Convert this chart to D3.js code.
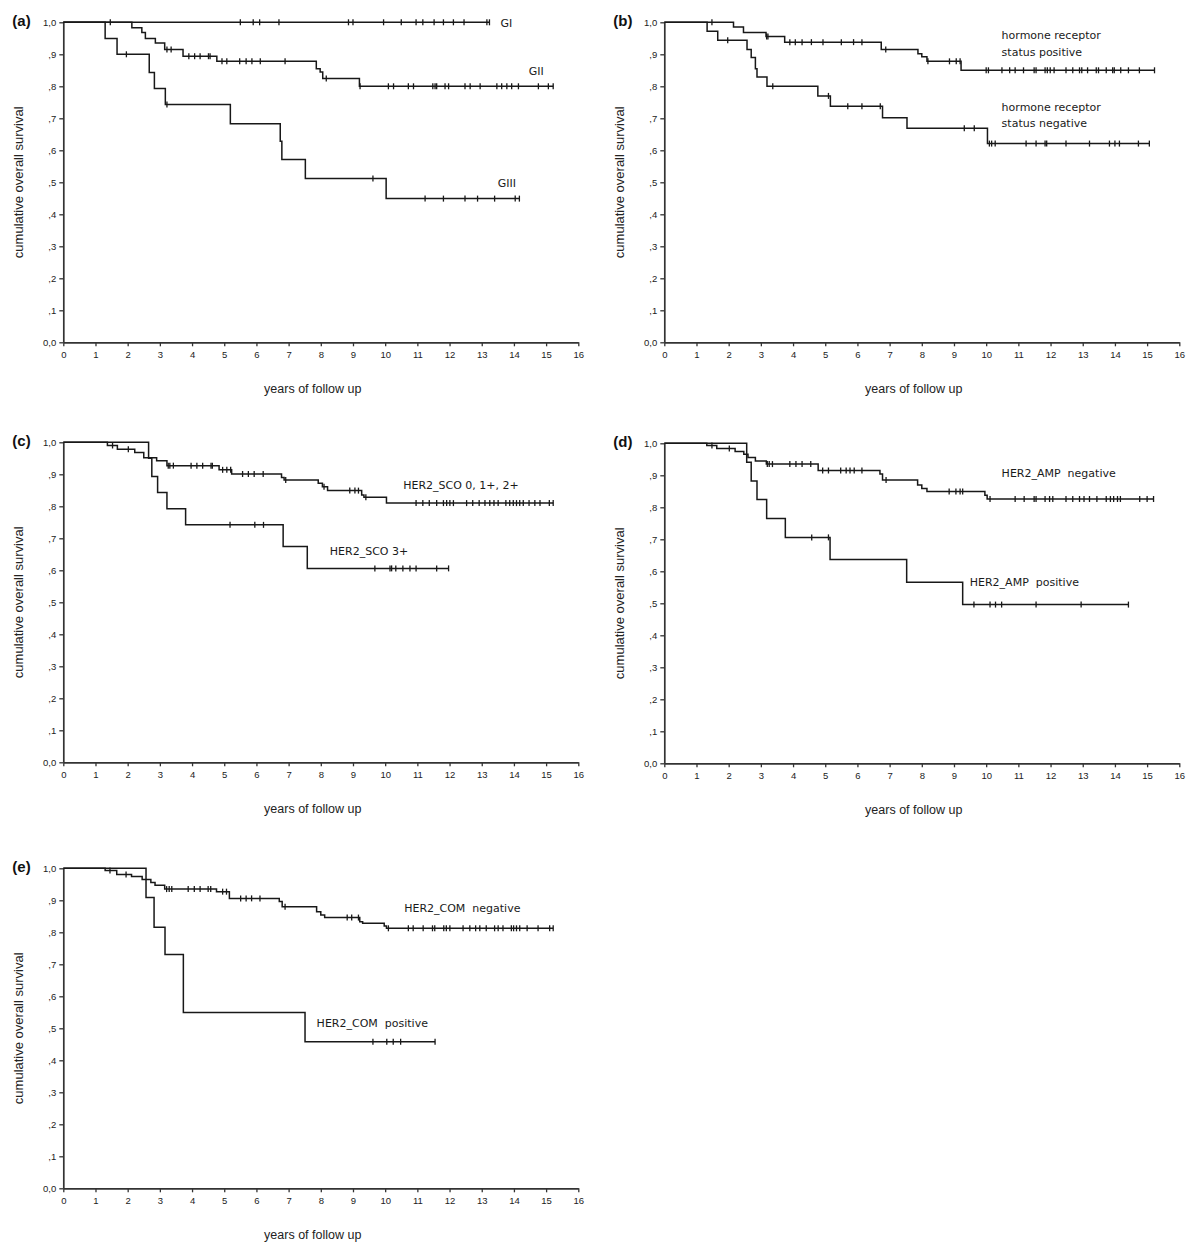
<!DOCTYPE html>
<html><head><meta charset="utf-8">
<script src="https://cdn.jsdelivr.net/npm/d3@7"></script>
<style>
body{margin:0;background:#fff;}
svg{display:block;}
.tick text{font-family:"Liberation Sans",Arial,sans-serif;font-size:9.5px;fill:#222;}
.lab{font-family:"DejaVu Sans",sans-serif;font-size:11px;fill:#1a1a1a;white-space:pre;}
</style></head>
<body>
<svg id="c" width="1200" height="1260"></svg>
<script>
// ---------- DATA ----------
const xTickLabels = ["0","1","2","3","4","5","6","7","8","9","10","11","12","13","14","15","16"];
const yTickValues = [0,0.1,0.2,0.3,0.4,0.5,0.6,0.7,0.8,0.9,1.0];
const yTickLabels = ["0,0",",1",",2",",3",",4",",5",",6",",7",",8",",9","1,0"];
const panelNames = ["(a)","(b)","(c)","(d)","(e)"];
const yTitle = "cumulative overall survival";
const xTitle = "years of follow up";

// Kaplan–Meier steps: [time (years), survival after drop]; censor times (years)
const a_GI_steps = [];
const a_GI_censor = [1.46,5.5,5.9,6.1,6.7,8.86,9.0,9.95,10.5,10.96,11.17,11.52,11.81,12.12,12.45,13.16,13.24];
const a_GII_steps = [[2.13,0.983],[2.44,0.968],[2.55,0.949],[2.86,0.935],[3.15,0.915],[3.72,0.894],[4.77,0.878],[7.86,0.855],[7.98,0.845],[8.06,0.824],[9.2,0.80]];
const a_GII_censor = [3.22,3.35,3.9,4.08,4.25,4.51,4.56,4.93,5.08,5.48,5.68,5.86,6.12,6.89,8.17,9.22,10.1,10.26,10.72,10.88,11.48,11.55,11.6,11.86,11.97,12.48,12.64,12.95,13.47,13.62,13.78,13.93,14.14,14.76,15.07,15.22];
const a_GIII_steps = [[1.3,0.949],[1.67,0.90],[2.67,0.843],[2.83,0.793],[3.17,0.743],[5.19,0.683],[6.74,0.628],[6.79,0.571],[7.52,0.512],[10.03,0.449]];
const a_GIII_censor = [1.96,3.22,9.62,11.24,11.81,12.48,12.87,13.4,14.04,14.17];

const b_pos_steps = [[2.15,0.985],[2.46,0.968],[3.16,0.956],[3.74,0.938],[6.74,0.915],[7.88,0.902],[8.0,0.892],[8.16,0.878],[9.22,0.85]];
const b_pos_censor = [1.48,3.18,3.22,3.9,4.07,4.28,4.57,4.93,5.5,5.88,6.14,6.88,8.19,8.86,9.07,9.19,10.0,10.07,10.49,10.73,10.9,11.16,11.49,11.55,11.83,11.9,11.99,12.11,12.48,12.69,12.9,12.97,13.15,13.42,13.49,13.73,13.93,13.98,14.18,14.42,14.76,15.23];
const b_neg_steps = [[1.33,0.972],[1.66,0.944],[2.57,0.915],[2.7,0.89],[2.83,0.855],[2.88,0.829],[3.19,0.80],[4.77,0.77],[5.16,0.738],[6.78,0.702],[7.54,0.669],[10.04,0.621]];
const b_neg_censor = [1.97,3.37,5.1,5.7,6.14,6.71,9.32,9.63,10.1,10.17,10.28,11.24,11.55,11.83,11.88,12.48,13.21,13.83,14.0,14.14,14.73,15.07];

const c_low_steps = [[1.37,0.99],[1.68,0.978],[2.22,0.968],[2.5,0.952],[2.9,0.942],[3.22,0.927],[4.84,0.914],[5.23,0.901],[6.78,0.89],[6.86,0.882],[7.92,0.872],[8.05,0.861],[8.21,0.849],[9.27,0.835],[9.34,0.828],[10.04,0.81]];
const c_low_censor = [1.53,2.02,3.26,3.31,3.42,3.97,4.15,4.33,4.59,4.63,4.95,5.08,5.2,5.57,5.75,5.93,6.21,6.91,8.1,8.9,9.06,9.17,9.4,10.96,11.17,11.37,11.6,11.81,11.91,12.01,12.12,12.53,12.72,12.92,13.1,13.25,13.38,13.51,13.75,13.87,13.98,14.08,14.18,14.29,14.47,14.65,14.81,15.1,15.22];
const c_high_steps = [[2.65,0.95],[2.75,0.893],[2.93,0.843],[3.22,0.792],[3.8,0.742],[6.83,0.674],[7.58,0.606]];
const c_high_censor = [5.18,5.95,6.22,9.68,10.15,10.2,10.33,10.55,10.77,10.96,11.6,11.97];

const d_neg_steps = [[1.32,0.993],[1.63,0.984],[2.2,0.974],[2.47,0.966],[2.6,0.956],[2.83,0.945],[3.17,0.935],[4.78,0.915],[6.7,0.904],[6.78,0.885],[7.87,0.87],[8.0,0.859],[8.16,0.849],[9.96,0.838],[10.03,0.826]];
const d_neg_censor = [1.48,2.02,3.2,3.26,3.36,3.9,4.09,4.28,4.55,4.92,5.1,5.48,5.65,5.77,5.9,6.14,6.89,8.85,9.06,9.19,9.27,10.12,10.9,11.18,11.49,11.55,11.83,11.97,12.07,12.48,12.69,12.9,13.04,13.21,13.44,13.73,13.86,13.96,14.08,14.17,14.77,15.0,15.2];
const d_pos_steps = [[2.56,0.941],[2.7,0.882],[2.88,0.824],[3.18,0.765],[3.76,0.706],[5.15,0.637],[7.53,0.566],[9.27,0.496]];
const d_pos_censor = [4.58,5.1,9.62,10.12,10.29,10.48,11.55,12.95,14.42];

const e_neg_steps = [[1.3,0.993],[1.66,0.981],[2.12,0.974],[2.45,0.965],[2.72,0.956],[2.85,0.947],[3.15,0.935],[4.76,0.927],[5.16,0.906],[6.71,0.896],[6.8,0.88],[7.87,0.864],[8.0,0.854],[8.12,0.846],[9.21,0.833],[9.3,0.828],[9.97,0.82],[10.04,0.8125]];
const e_neg_censor = [1.45,1.95,3.21,3.29,3.37,3.88,4.07,4.25,4.5,4.58,4.95,5.07,5.51,5.68,5.85,6.11,6.89,8.82,8.96,9.17,10.1,10.72,10.87,11.18,11.47,11.54,11.82,11.9,12.01,12.42,12.63,12.81,12.94,13.14,13.4,13.51,13.66,13.92,13.99,14.08,14.18,14.41,14.75,15.11,15.22];
const e_pos_steps = [[2.57,0.909],[2.82,0.816],[3.16,0.731],[3.73,0.549],[7.51,0.458]];
const e_pos_censor = [9.62,10.05,10.25,10.48,11.55];

// curve labels: text and anchor in data units (years, survival)
const a_labels = [["GI",13.58,0.998],["GII",14.46,0.846],["GIII",13.5,0.498]];
const b_labels = [["hormone receptor",10.48,0.96],["status positive",10.48,0.906],["hormone receptor",10.48,0.734],["status negative",10.48,0.684]];
const c_labels = [["HER2_SCO 0, 1+, 2+",10.56,0.867],["HER2_SCO 3+",8.28,0.661]];
const d_labels = [["HER2_AMP  negative",10.48,0.906],["HER2_AMP  positive",9.49,0.5675]];
const e_labels = [["HER2_COM  negative",10.59,0.875],["HER2_COM  positive",7.87,0.516]];

// ---------- LAYOUT ----------
const pw = 515, ph = 320;
const panels = [
  {name:panelNames[0], x0:63.3, y0:22.3, curves:[[a_GI_steps,a_GI_censor],[a_GII_steps,a_GII_censor],[a_GIII_steps,a_GIII_censor]], labels:a_labels},
  {name:panelNames[1], x0:664.3, y0:22.3, curves:[[b_pos_steps,b_pos_censor],[b_neg_steps,b_neg_censor]], labels:b_labels},
  {name:panelNames[2], x0:63.3, y0:442.3, curves:[[c_low_steps,c_low_censor],[c_high_steps,c_high_censor]], labels:c_labels},
  {name:panelNames[3], x0:664.3, y0:443.3, curves:[[d_neg_steps,d_neg_censor],[d_pos_steps,d_pos_censor]], labels:d_labels},
  {name:panelNames[4], x0:63.3, y0:868.3, curves:[[e_neg_steps,e_neg_censor],[e_pos_steps,e_pos_censor]], labels:e_labels}
];

const svg = d3.select("#c");
const ink = "#181818";

panels.forEach(p => {
  const g = svg.append("g").attr("transform", `translate(${p.x0},${p.y0})`);
  const x = d3.scaleLinear().domain([0,16]).range([0,pw]);
  const y = d3.scaleLinear().domain([0,1]).range([ph,0]);

  const ya = g.append("g").call(d3.axisLeft(y).tickValues(yTickValues).tickSize(4).tickSizeOuter(0).tickPadding(3)
      .tickFormat((d,i)=>yTickLabels[i]));
  const xa = g.append("g").attr("transform",`translate(0,${ph})`).call(d3.axisBottom(x).tickValues(d3.range(0,17)).tickSize(4).tickSizeOuter(0).tickPadding(5)
      .tickFormat((d,i)=>xTickLabels[i]));
  [ya,xa].forEach(a=>{
    a.select(".domain").attr("stroke","#333").attr("stroke-width",1.7);
    a.selectAll(".tick line").attr("stroke","#333").attr("stroke-width",1.3);
  });

  // titles
  g.append("text").attr("x",x(7.75)).attr("y",ph+51).attr("text-anchor","middle")
    .style("font-family","Liberation Sans, Arial, sans-serif").style("font-size","12.5px").attr("fill","#222").text(xTitle);
  g.append("text").attr("transform",`translate(${-40},${y(0.5)}) rotate(-90)`).attr("text-anchor","middle")
    .style("font-family","Liberation Sans, Arial, sans-serif").style("font-size","13px").attr("fill","#222").text(yTitle);
  g.append("text").attr("x",-51).attr("y",4).style("font-family","Liberation Sans, Arial, sans-serif")
    .style("font-size","15px").style("font-weight","bold").attr("fill","#111").text(p.name);

  // curves
  p.curves.forEach(([steps,censor]) => {
    const surv = t => { let s = 1; steps.forEach(([ts,v]) => { if (ts <= t) s = v; }); return s; };
    const end = Math.max(d3.max(censor) || 0, steps.length ? steps[steps.length-1][0] : 0);
    const pts = [[0,1]].concat(steps).concat([[end, surv(end)]]);
    g.append("path").datum(pts)
      .attr("d", d3.line().x(d=>x(d[0])).y(d=>y(d[1])).curve(d3.curveStepAfter))
      .attr("fill","none").attr("stroke",ink).attr("stroke-width",1.5);
    g.selectAll(null).data(censor).enter().append("line")
      .attr("x1",d=>x(d)).attr("x2",d=>x(d))
      .attr("y1",d=>y(surv(d))-3).attr("y2",d=>y(surv(d))+3)
      .attr("stroke",ink).attr("stroke-width",1.3);
  });

  p.labels.forEach(([txt,t,s]) => {
    g.append("text").attr("class","lab").attr("x",x(t)).attr("y",y(s)).attr("dy","0.35em").text(txt);
  });
});
</script>
</body></html>
